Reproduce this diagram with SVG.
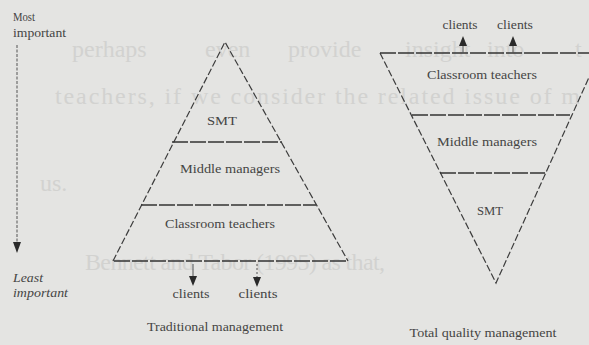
<svg xmlns="http://www.w3.org/2000/svg" width="589" height="345" viewBox="0 0 589 345">
<defs>
<style>
.bg{fill:#e4e4e2}
.ghost{font-family:"Liberation Serif",serif;font-size:24px;fill:#d2d2d0}
.lbl{font-family:"Liberation Serif",serif;font-size:13px;fill:#444}
.sm{font-family:"Liberation Serif",serif;font-size:11.5px;fill:#444}
.edge{fill:none;stroke:#3c3c3c;stroke-width:1.2;stroke-dasharray:7 2.5}
.hline{fill:none;stroke:#333;stroke-width:1.6;stroke-dasharray:16 2}
.conn{fill:none;stroke:#555;stroke-width:1}
.head{fill:#2a2a2a}
</style>
</defs>
<rect class="bg" x="0" y="0" width="589" height="345"/>
<g id="ghost-text">
<text class="ghost" x="72" y="57">perhaps</text>
<text class="ghost" x="205" y="57">even</text>
<text class="ghost" x="288" y="57">provide</text>
<text class="ghost" x="405" y="57">insight</text>
<text class="ghost" x="487" y="57">into</text>
<text class="ghost" x="575" y="57">t</text>
<text class="ghost" x="55" y="104" textLength="525" lengthAdjust="spacing">teachers, if we consider the related issue of m</text>
<text class="ghost" x="40" y="191">us.</text>
<text class="ghost" x="85" y="270" textLength="300" lengthAdjust="spacing">Bennett and Tabor (1995) as that,</text>
</g>
<g id="importance-axis">
<text class="sm" x="13" y="21" textLength="22" lengthAdjust="spacingAndGlyphs">Most</text>
<text class="sm" x="13" y="37" textLength="53" lengthAdjust="spacingAndGlyphs">important</text>
<text class="sm" x="13" y="282" font-style="italic" textLength="30" lengthAdjust="spacingAndGlyphs">Least</text>
<text class="sm" x="13" y="297" font-style="italic" textLength="55" lengthAdjust="spacingAndGlyphs">important</text>
</g>
<g id="traditional-pyramid">
<path class="edge" d="M113,261 L225,42 L348,261"/>
<path class="hline" d="M114,261 H347"/>
<path class="hline" d="M172,142 H282"/>
<path class="hline" d="M141,205 H316"/>
</g>
<g id="trad-smt"><text class="lbl" x="222" y="125" text-anchor="middle" textLength="30" lengthAdjust="spacingAndGlyphs">SMT</text></g>
<g id="trad-middle"><text class="lbl" x="230" y="173" text-anchor="middle" textLength="100" lengthAdjust="spacingAndGlyphs">Middle managers</text></g>
<g id="trad-teachers"><text class="lbl" x="220" y="228" text-anchor="middle" textLength="110" lengthAdjust="spacingAndGlyphs">Classroom teachers</text></g>
<g id="trad-clients-1"><text class="sm" x="191" y="298" text-anchor="middle" textLength="37" lengthAdjust="spacingAndGlyphs">clients</text></g>
<g id="trad-clients-2"><text class="sm" x="258" y="298" text-anchor="middle" textLength="39" lengthAdjust="spacingAndGlyphs">clients</text></g>
<g id="trad-caption"><text class="lbl" x="215" y="331" text-anchor="middle" textLength="136" lengthAdjust="spacingAndGlyphs">Traditional management</text></g>
<g id="tqm-pyramid">
<path class="edge" d="M380,53 L496,283 L600,53"/>
<path class="hline" d="M380,53 H600"/>
<path class="hline" d="M412,115 H570"/>
<path class="hline" d="M440,173 H545"/>
</g>
<g id="tqm-teachers"><text class="lbl" x="482" y="79" text-anchor="middle" textLength="110" lengthAdjust="spacingAndGlyphs">Classroom teachers</text></g>
<g id="tqm-middle"><text class="lbl" x="487" y="146" text-anchor="middle" textLength="100" lengthAdjust="spacingAndGlyphs">Middle managers</text></g>
<g id="tqm-smt"><text class="lbl" x="490" y="215" text-anchor="middle" textLength="26" lengthAdjust="spacingAndGlyphs">SMT</text></g>
<g id="tqm-clients-1"><text class="sm" x="460" y="29" text-anchor="middle" textLength="35" lengthAdjust="spacingAndGlyphs">clients</text></g>
<g id="tqm-clients-2"><text class="sm" x="515" y="29" text-anchor="middle" textLength="36" lengthAdjust="spacingAndGlyphs">clients</text></g>
<g id="tqm-caption"><text class="sm" x="483" y="337" text-anchor="middle" textLength="147" lengthAdjust="spacingAndGlyphs">Total quality management</text></g>
<g id="connectors">
<path class="conn" d="M17,45 V243" stroke-dasharray="3 1.5" stroke-width="1.3"/>
<path class="head" d="M13,242 H21 L17,253 Z"/>
<path class="conn" d="M193,264 V277"/>
<path class="head" d="M189,276 H197 L193,286 Z"/>
<path class="conn" d="M257,264 V278" stroke-dasharray="2 2"/>
<path class="head" d="M253,277 H261 L257,287 Z"/>
<path class="conn" d="M463,53 V45"/>
<path class="head" d="M459,46 H467 L463,36 Z"/>
<path class="conn" d="M513,53 V45"/>
<path class="head" d="M509,46 H517 L513,36 Z"/>
</g>
</svg>
